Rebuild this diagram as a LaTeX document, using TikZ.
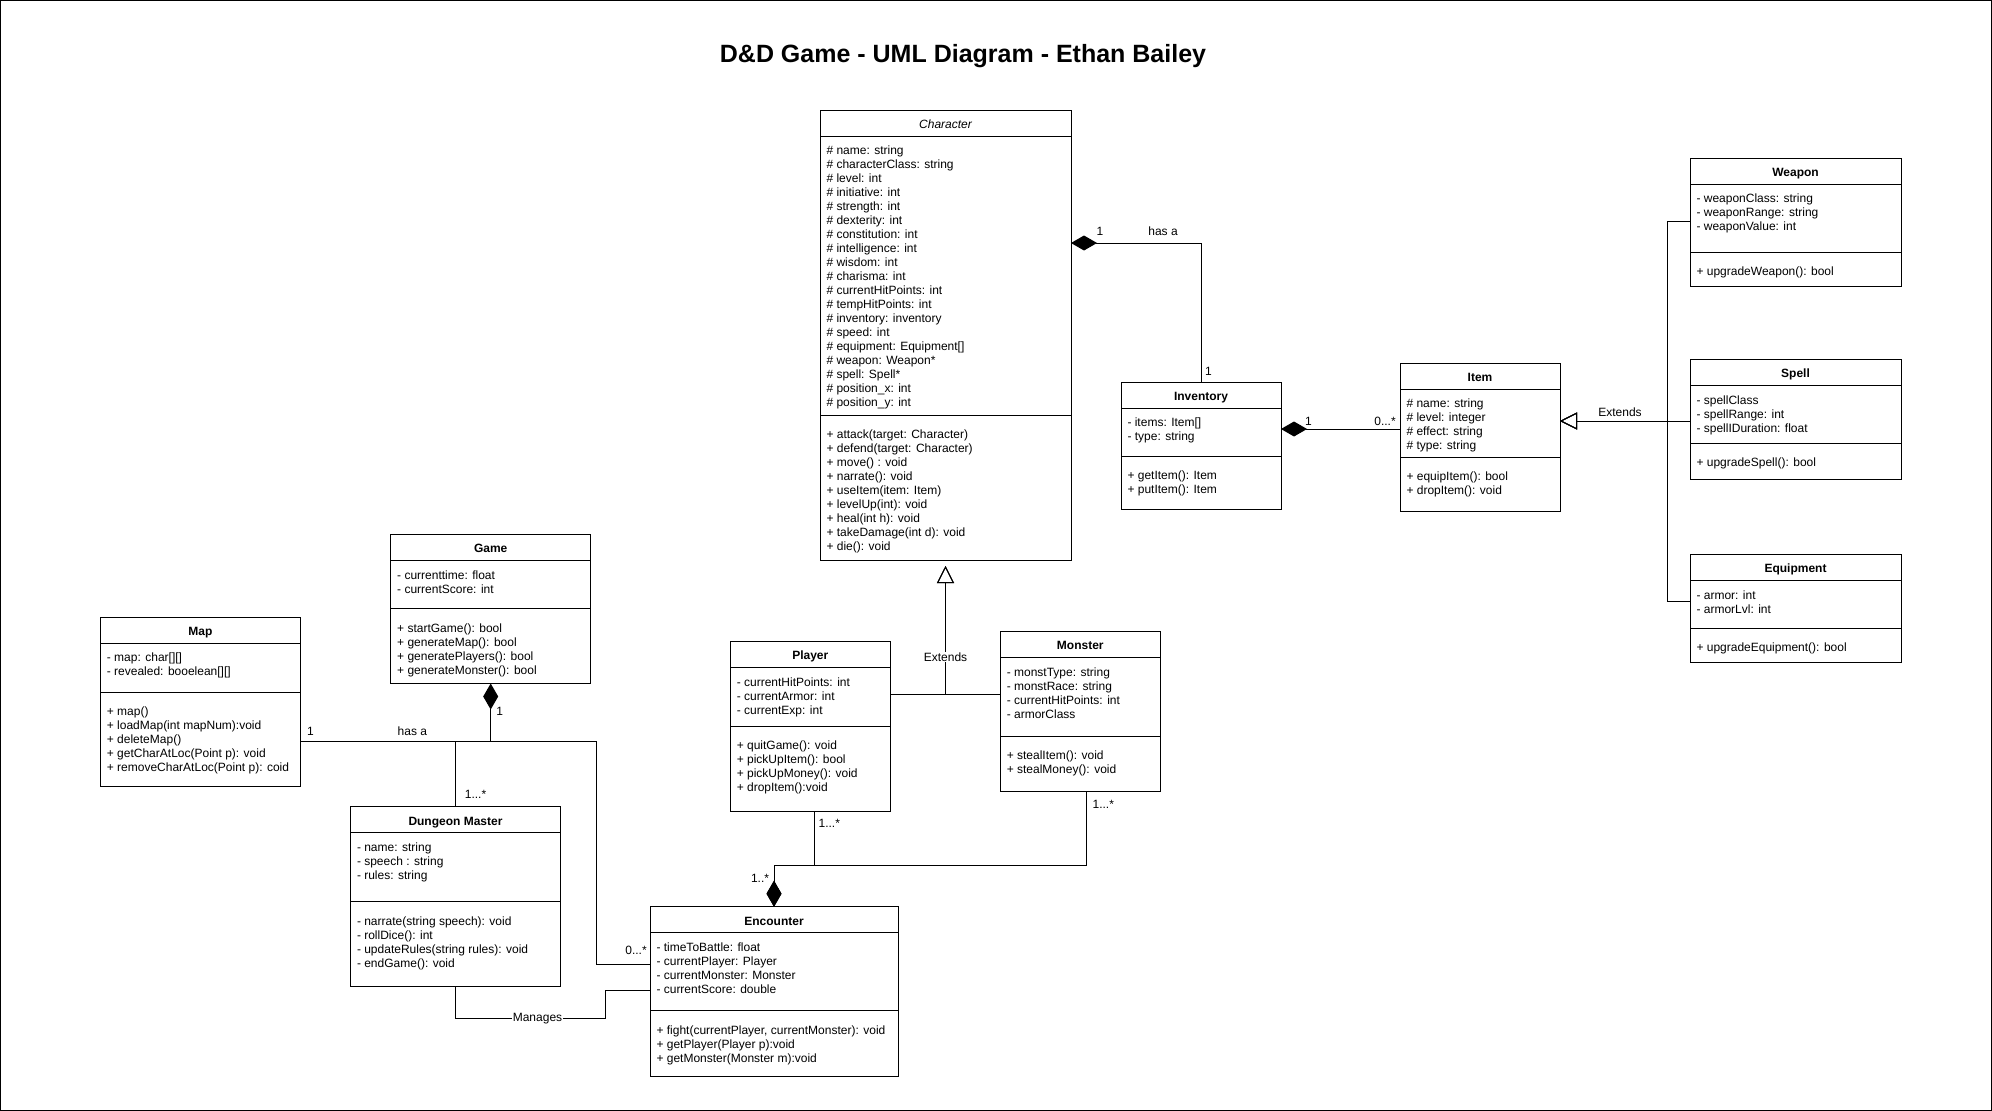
\documentclass[tikz,border=0pt]{standalone}
\usepackage{fontspec}
\setmainfont{Liberation Sans}
\usepackage{tikz}
\usetikzlibrary{calc, arrows.meta}

\begin{document}
\begin{tikzpicture}[x=1pt, y=-1pt, line width=1pt]

\tikzstyle{class}=[draw=black, rectangle, anchor=north west, inner sep=0pt, outer sep=0pt]
\tikzstyle{title}=[anchor=base, inner sep=0pt, font=\fontsize{12}{14}\selectfont\bfseries]
\tikzstyle{members}=[anchor=north west, align=left, inner sep=0pt, font=\fontsize{12}{14}\selectfont]
\tikzstyle{mult}=[inner sep=0pt, font=\fontsize{12}{14}\selectfont]
\tikzstyle{tag}=[inner sep=1pt, fill=white, font=\fontsize{12}{14}\selectfont]
\tikzstyle{heading}=[inner sep=0pt, font=\fontsize{25}{30}\selectfont\bfseries]
\tikzstyle{compose}=[arrows={Diamond[length=26pt, width=15pt]-}]
\tikzstyle{extends}=[arrows={-Triangle[open, length=17pt, width=17pt]}]

\useasboundingbox (0, 0) rectangle (1992, 1111);
\draw (0.5, 0.5) rectangle (1991.5, 1110.5);

\node [heading] (heading) at (963, 56) {D\&D Game - UML Diagram - Ethan Bailey};

% classes
\node [class, minimum width=251, minimum height=450] (character) at (820, 110) {};
\node [class, minimum width=160, minimum height=127] (inventory) at (1121, 382) {};
\node [class, minimum width=160, minimum height=148] (item) at (1400, 363) {};
\node [class, minimum width=211, minimum height=128] (weapon) at (1690, 158) {};
\node [class, minimum width=211, minimum height=120] (spell) at (1690, 359.3) {};
\node [class, minimum width=211, minimum height=108] (equipment) at (1690, 554.3) {};
\node [class, minimum width=160, minimum height=170] (player) at (730.3, 641.3) {};
\node [class, minimum width=160, minimum height=160] (monster) at (1000.3, 631.3) {};
\node [class, minimum width=200, minimum height=169] (map) at (100.4, 617) {};
\node [class, minimum width=200, minimum height=149] (game) at (390.7, 534.5) {};
\node [class, minimum width=210, minimum height=180] (dungeon-master) at (350.5, 806.7) {};
\node [class, minimum width=248, minimum height=170] (encounter) at (650, 906.7) {};

\foreach \cls/\off in {character/305, inventory/74, item/94, weapon/94, spell/84, equipment/74,
	player/85, monster/105, map/75, game/74, dungeon-master/95, encounter/104}
{
	\draw ($(\cls.north west) + (0, 26)$) -- ($(\cls.north east) + (0, 26)$);
	\draw ($(\cls.north west) + (0, \off)$) -- ($(\cls.north east) + (0, \off)$);
}

% character
\node [title, font=\fontsize{12}{14}\selectfont\itshape] (character-title) at ($(character.north) + (0, 18.3)$) {Character};
\node [members] (character-attrs) at ($(character.north west) + (6, 35.7)$) {\# name: string\\\# characterClass: string\\\# level: int\\\# initiative: int\\\# strength: int\\\# dexterity: int\\\# constitution: int\\\# intelligence: int\\\# wisdom: int\\\# charisma: int\\\# currentHitPoints: int\\\# tempHitPoints: int\\\# inventory: inventory\\\# speed: int\\\# equipment: Equipment[]\\\# weapon: Weapon*\\\# spell: Spell*\\\# position\_x: int\\\# position\_y: int};
\node [members] (character-ops) at ($(character.north west) + (6, 319.3)$) {+ attack(target: Character)\\+ defend(target: Character)\\+ move() : void\\+ narrate(): void\\+ useItem(item: Item)\\+ levelUp(int): void\\+ heal(int h): void\\+ takeDamage(int d): void\\+ die(): void};

% inventory and items
\node [title] (inventory-title) at ($(inventory.north) + (0, 18.3)$) {Inventory};
\node [members] (inventory-attrs) at ($(inventory.north west) + (6, 35.7)$) {- items: Item[]\\- type: string};
\node [members] (inventory-ops) at ($(inventory.north west) + (6, 88.3)$) {+ getItem(): Item\\+ putItem(): Item};

\node [title] (item-title) at ($(item.north) + (0, 18.3)$) {Item};
\node [members] (item-attrs) at ($(item.north west) + (6, 35.7)$) {\# name: string\\\# level: integer\\\# effect: string\\\# type: string};
\node [members] (item-ops) at ($(item.north west) + (6, 108.3)$) {+ equipItem(): bool\\+ dropItem(): void};

\node [title] (weapon-title) at ($(weapon.north) + (0, 18.3)$) {Weapon};
\node [members] (weapon-attrs) at ($(weapon.north west) + (6, 35.7)$) {- weaponClass: string\\- weaponRange: string\\- weaponValue: int};
\node [members] (weapon-ops) at ($(weapon.north west) + (6, 108.3)$) {+ upgradeWeapon(): bool};

\node [title] (spell-title) at ($(spell.north) + (0, 18.3)$) {Spell};
\node [members] (spell-attrs) at ($(spell.north west) + (6, 35.7)$) {- spellClass\\- spellRange: int\\- spellIDuration: float};
\node [members] (spell-ops) at ($(spell.north west) + (6, 98.3)$) {+ upgradeSpell(): bool};

\node [title] (equipment-title) at ($(equipment.north) + (0, 18.3)$) {Equipment};
\node [members] (equipment-attrs) at ($(equipment.north west) + (6, 35.7)$) {- armor: int\\- armorLvl: int};
\node [members] (equipment-ops) at ($(equipment.north west) + (6, 88.3)$) {+ upgradeEquipment(): bool};

% player and monster
\node [title] (player-title) at ($(player.north) + (0, 18.3)$) {Player};
\node [members] (player-attrs) at ($(player.north west) + (6, 35.7)$) {- currentHitPoints: int\\- currentArmor: int\\- currentExp: int};
\node [members] (player-ops) at ($(player.north west) + (6, 99.3)$) {+ quitGame(): void\\+ pickUpItem(): bool\\+ pickUpMoney(): void\\+ dropItem():void};

\node [title] (monster-title) at ($(monster.north) + (0, 18.3)$) {Monster};
\node [members] (monster-attrs) at ($(monster.north west) + (6, 35.7)$) {- monstType: string\\- monstRace: string\\- currentHitPoints: int\\- armorClass};
\node [members] (monster-ops) at ($(monster.north west) + (6, 119.3)$) {+ stealItem(): void\\+ stealMoney(): void};

% game side
\node [title] (map-title) at ($(map.north) + (0, 18.3)$) {Map};
\node [members] (map-attrs) at ($(map.north west) + (6, 35.7)$) {- map: char[][]\\- revealed: booelean[][]};
\node [members] (map-ops) at ($(map.north west) + (6, 89.3)$) {+ map()\\+ loadMap(int mapNum):void\\+ deleteMap()\\+ getCharAtLoc(Point p): void\\+ removeCharAtLoc(Point p): coid};

\node [title] (game-title) at ($(game.north) + (0, 18.3)$) {Game};
\node [members] (game-attrs) at ($(game.north west) + (6, 35.7)$) {- currenttime: float\\- currentScore: int};
\node [members] (game-ops) at ($(game.north west) + (6, 88.3)$) {+ startGame(): bool\\+ generateMap(): bool\\+ generatePlayers(): bool\\+ generateMonster(): bool};

\node [title] (dungeon-master-title) at ($(dungeon-master.north) + (0, 18.3)$) {Dungeon Master};
\node [members] (dungeon-master-attrs) at ($(dungeon-master.north west) + (6, 35.7)$) {- name: string\\- speech : string\\- rules: string};
\node [members] (dungeon-master-ops) at ($(dungeon-master.north west) + (6, 109.3)$) {- narrate(string speech): void\\- rollDice(): int\\- updateRules(string rules): void\\- endGame(): void};

\node [title] (encounter-title) at ($(encounter.north) + (0, 18.3)$) {Encounter};
\node [members] (encounter-attrs) at ($(encounter.north west) + (6, 35.7)$) {- timeToBattle: float\\- currentPlayer: Player\\- currentMonster: Monster\\- currentScore: double};
\node [members] (encounter-ops) at ($(encounter.north west) + (6, 118.3)$) {+ fight(currentPlayer, currentMonster): void\\+ getPlayer(Player p):void\\+ getMonster(Monster m):void};

% connectors
\coordinate (char-out) at ($(character.north east) + (0, 133)$);
\coordinate (inv-out) at ($(inventory.north east) + (0, 47)$);
\coordinate (item-in) at ($(item.north east) + (0, 58)$);
\coordinate (item-bus) at ($(item-in) + (107, 0)$);
\coordinate (char-in) at ($(character.south) + (0, 6)$);
\coordinate (enc-bus) at ($(encounter.north) + (0, -41)$);
\coordinate (map-out) at ($(map.north east) + (0, 124.5)$);
\coordinate (enc-in) at ($(encounter.north west) + (0, 58)$);
\coordinate (enc-mid) at ($(encounter.north west) + (0, 84)$);

\draw [compose] (char-out) -| (inventory.north);
\draw [compose] (inv-out) -- (inv-out -| item.west);

\draw [extends] ($(weapon.north west) + (0, 63)$) -| (item-bus) -- (item-in);
\draw [extends] (spell.west |- item-in) -- (item-in);
\draw [extends] ($(equipment.north west) + (0, 47)$) -| (item-bus) -- (item-in);

\draw [extends] ($(player.north east) + (0, 53)$) -| (char-in);
\draw [extends] ($(monster.north west) + (0, 63)$) -| (char-in);

\draw [compose] (encounter.north) -- (enc-bus) -| ($(player.south) + (4, 0)$);
\draw [compose] (encounter.north) -- (enc-bus) -| ($(monster.south) + (6, 0)$);

\draw [compose] (game.south) -- ++(0, 58) -| (dungeon-master.north);
\draw (map-out) -- ++(296, 0) |- (enc-in);
\draw (dungeon-master.south) -- ++(0, 32) -| ($(enc-mid) + (-45, 0)$) -- (enc-mid);

% labels
\node [mult] (char-inv-1) at ($(char-out) + (29, -12)$) {1};
\node [mult] (char-inv-has) at ($(char-out) + (92, -12)$) {has a};
\node [mult] (inv-char-1) at ($(inventory.north) + (7.5, -10.3)$) {1};
\node [mult] (inv-item-1) at ($(inv-out) + (27.5, -8)$) {1};
\node [mult] (inv-item-n) at ($(item.north west) + (-15, 58)$) {0...*};
\node [mult] (item-ext) at ($(item-in) + (60, -9)$) {Extends};
\node [tag] (char-ext) at ($(char-in) + (0, 91)$) {Extends};
\node [mult] (player-n) at ($(player.south) + (19, 12.3)$) {1...*};
\node [mult] (monster-n) at ($(monster.south) + (23, 12.7)$) {1...*};
\node [mult] (enc-n) at ($(encounter.north) + (-14, -28.4)$) {1..*};
\node [mult] (game-1) at ($(game.south) + (9, 28)$) {1};
\node [mult] (dm-n) at ($(dungeon-master.north) + (20, -12)$) {1...*};
\node [mult] (map-1) at ($(map-out) + (10, -10.5)$) {1};
\node [mult] (map-has) at ($(map-out) + (112, -10.5)$) {has a};
\node [mult] (enc-map-n) at ($(enc-in) + (-14, -14.7)$) {0...*};
\node [tag] (manages) at ($(dungeon-master.south) + (82, 32)$) {Manages};

\end{tikzpicture}
\end{document}
